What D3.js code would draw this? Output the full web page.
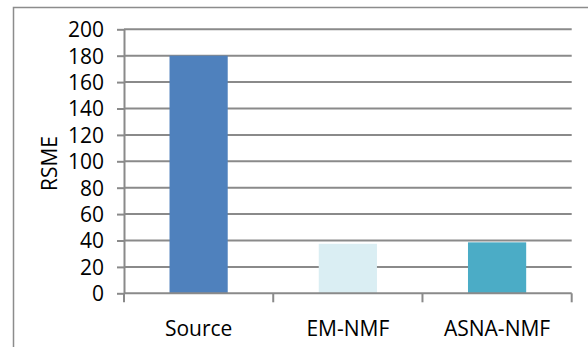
<!DOCTYPE html>
<html>
<head>
<meta charset="utf-8">
<script src="https://cdn.jsdelivr.net/npm/d3@7"></script>
<style>
  html, body { margin: 0; padding: 0; background: #fff; }
  svg { display: block; }
  text { font-family: "Open Sans", "Liberation Sans", sans-serif; fill: #000; }
</style>
</head>
<body>
<svg id="chart" width="588" height="347"></svg>
<script>
// RSME per method
const categories = ["Source", "EM-NMF", "ASNA-NMF"];
const values = [180, 37.5, 38.6];
const barColors = ["#4F81BD", "#DAEEF3", "#4BACC6"];
const yTicks = [0, 20, 40, 60, 80, 100, 120, 140, 160, 180, 200];
const yLabel = "RSME";

const svg = d3.select("#chart");
const plot = { left: 124, right: 571.7, top: 29.3, bottom: 293.3 };
const gridColor = "#8a8a8a";
const fontSize = 21;

// chart area frame
svg.append("rect")
  .attr("x", 13.5).attr("y", 7.5)
  .attr("width", 600).attr("height", 360)
  .attr("fill", "#fff")
  .attr("stroke", "#8c8c8c")
  .attr("stroke-width", 1.5);

const x = d3.scaleBand()
  .domain(categories)
  .range([plot.left, plot.right])
  .paddingInner(0.61)
  .paddingOuter(0.305);

const y = d3.scaleLinear()
  .domain([0, 200])
  .range([plot.bottom, plot.top]);

// horizontal gridlines
svg.append("g")
  .selectAll("line")
  .data(yTicks.filter(d => d !== 0))
  .join("line")
  .attr("x1", plot.left).attr("x2", plot.right)
  .attr("y1", d => y(d)).attr("y2", d => y(d))
  .attr("stroke", gridColor)
  .attr("stroke-width", 2);

// bars
svg.append("g")
  .selectAll("rect")
  .data(categories)
  .join("rect")
  .attr("x", d => x(d))
  .attr("width", x.bandwidth())
  .attr("y", (d, i) => y(values[i]))
  .attr("height", (d, i) => y(0) - y(values[i]))
  .attr("fill", (d, i) => barColors[i]);

// y axis
const yAxis = svg.append("g")
  .attr("transform", `translate(${plot.left},0)`)
  .call(d3.axisLeft(y).tickValues(yTicks).tickSize(7).tickPadding(13).tickSizeOuter(0));
yAxis.select(".domain").attr("stroke", gridColor).attr("stroke-width", 2);
yAxis.selectAll(".tick line").attr("stroke", gridColor).attr("stroke-width", 2);
yAxis.selectAll(".tick text")
  .style("font-family", '"Open Sans", "Liberation Sans", sans-serif')
  .attr("font-size", fontSize)
  .attr("fill", "#000")
  .attr("dy", "0.35em");

// x axis line with category boundary ticks
const step = x.step();
const boundaries = d3.range(categories.length + 1).map(i => plot.left + i * step);
svg.append("line")
  .attr("x1", plot.left).attr("x2", plot.right)
  .attr("y1", y(0)).attr("y2", y(0))
  .attr("stroke", gridColor).attr("stroke-width", 2);
svg.append("g")
  .selectAll("line")
  .data(boundaries)
  .join("line")
  .attr("x1", d => d).attr("x2", d => d)
  .attr("y1", y(0)).attr("y2", y(0) + 9)
  .attr("stroke", gridColor).attr("stroke-width", 2);

// category labels
svg.append("g")
  .selectAll("text")
  .data(categories)
  .join("text")
  .attr("x", d => x(d) + x.bandwidth() / 2)
  .attr("y", 336)
  .attr("text-anchor", "middle")
  .attr("font-size", fontSize)
  .text(d => d);

// y axis title
svg.append("text")
  .attr("transform", "translate(56.5,163.5) rotate(-90)")
  .attr("text-anchor", "middle")
  .attr("font-size", fontSize)
  .text(yLabel);
</script>
</body>
</html>
